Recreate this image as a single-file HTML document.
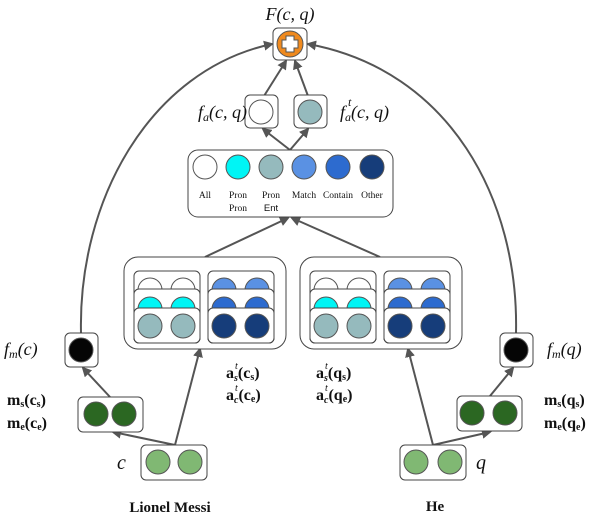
<!DOCTYPE html>
<html><head><style>
body{margin:0;background:#fff}
svg text{font-family:"Liberation Serif",serif}
.it{font-style:italic;font-size:18px}
.b{font-weight:bold;font-size:16px}
.s{font-size:9.5px}
</style></head><body>
<svg width="602" height="520" viewBox="0 0 602 520" xmlns="http://www.w3.org/2000/svg">
<defs>
<marker id="a" markerWidth="10" markerHeight="10" refX="8" refY="5" orient="auto" markerUnits="userSpaceOnUse">
<path d="M0,0 L10,5 L0,10 z" fill="#555"/></marker>
<g id="grp">
 <rect x="0" y="0" width="162" height="92" rx="14" fill="#fff" stroke="#444"/>
 <rect x="10" y="14" width="66" height="72" rx="5" fill="#fff" stroke="#444"/>
 <circle cx="26" cy="33" r="12" fill="#fff" stroke="#555"/><circle cx="59" cy="33" r="12" fill="#fff" stroke="#555"/>
 <rect x="10" y="32" width="66" height="54" rx="5" fill="#fff" stroke="#444"/>
 <circle cx="26" cy="52" r="12" fill="#00f5f5" stroke="#555"/><circle cx="59" cy="52" r="12" fill="#00f5f5" stroke="#555"/>
 <rect x="10" y="51" width="66" height="35" rx="5" fill="#fff" stroke="#444"/>
 <circle cx="26" cy="69" r="12" fill="#95babd" stroke="#555"/><circle cx="59" cy="69" r="12" fill="#95babd" stroke="#555"/>
 <rect x="84" y="14" width="66" height="72" rx="5" fill="#fff" stroke="#444"/>
 <circle cx="100" cy="33" r="12" fill="#5a91e3" stroke="#555"/><circle cx="133" cy="33" r="12" fill="#5a91e3" stroke="#555"/>
 <rect x="84" y="32" width="66" height="54" rx="5" fill="#fff" stroke="#444"/>
 <circle cx="100" cy="52" r="12" fill="#2d6bcf" stroke="#555"/><circle cx="133" cy="52" r="12" fill="#2d6bcf" stroke="#555"/>
 <rect x="84" y="51" width="66" height="35" rx="5" fill="#fff" stroke="#444"/>
 <circle cx="100" cy="69" r="12" fill="#163d7a" stroke="#555"/><circle cx="133" cy="69" r="12" fill="#163d7a" stroke="#555"/>
</g>
</defs>
<g stroke="#555" stroke-width="2" fill="none" marker-end="url(#a)">
<path d="M81,333 C78,200 150,70 272,44"/>
<path d="M516,333 C519,200 450,70 308,44"/>
<path d="M175,445 L200,349"/>
<path d="M175,445 L113,432"/>
<path d="M110,397 L83,368"/>
<path d="M433,445 L408,349"/>
<path d="M433,445 L490,432"/>
<path d="M490,396 L513,368"/>
<path d="M205,257 L288,218"/>
<path d="M380,257 L292,218"/>
<path d="M290,150 L263,129"/>
<path d="M290,150 L308,129"/>
<path d="M264,96 L286,61"/>
<path d="M308,96 L295,61"/>
</g>
<use href="#grp" x="124" y="257"/>
<use href="#grp" x="300" y="257"/>
<g stroke="#444" fill="#fff">
<rect x="273" y="28" width="34" height="32" rx="5"/>
<rect x="245" y="95" width="33" height="33" rx="5"/>
<rect x="294" y="95" width="33" height="33" rx="5"/>
<rect x="188" y="150" width="205" height="67" rx="10"/>
<rect x="65" y="333" width="33" height="34" rx="5"/>
<rect x="500" y="333" width="33" height="34" rx="5"/>
<rect x="78" y="397" width="65" height="35" rx="5"/>
<rect x="457" y="396" width="65" height="35" rx="5"/>
<rect x="141" y="445" width="66" height="35" rx="5"/>
<rect x="400" y="445" width="66" height="35" rx="5"/>
</g>
<g stroke="#555">
<circle cx="290" cy="44" r="13" fill="#f08a1e"/>
<path d="M286,36h8v4h4v8h-4v4h-8v-4h-4v-8h4z" fill="#fff" stroke="#555" stroke-width="1"/>
<circle cx="261" cy="112" r="12" fill="#fff"/>
<circle cx="310" cy="112" r="12" fill="#95babd"/>
<circle cx="205" cy="167" r="12" fill="#fff"/>
<circle cx="238" cy="167" r="12" fill="#00f5f5"/>
<circle cx="271" cy="167" r="12" fill="#95babd"/>
<circle cx="304" cy="167" r="12" fill="#5a91e3"/>
<circle cx="338" cy="167" r="12" fill="#2d6bcf"/>
<circle cx="372" cy="167" r="12" fill="#163d7a"/>
<circle cx="81" cy="350" r="12" fill="#050505"/>
<circle cx="516" cy="350" r="12" fill="#050505"/>
<circle cx="96" cy="414" r="12" fill="#2b6722"/><circle cx="124" cy="414" r="12" fill="#2b6722"/>
<circle cx="472" cy="413" r="12" fill="#2b6722"/><circle cx="505" cy="413" r="12" fill="#2b6722"/>
<circle cx="158" cy="462" r="12" fill="#80b873"/><circle cx="190" cy="462" r="12" fill="#80b873"/>
<circle cx="416" cy="462" r="12" fill="#80b873"/><circle cx="450" cy="462" r="12" fill="#80b873"/>
</g>
<g fill="#111" text-anchor="middle">
<text x="205" y="198" class="s">All</text>
<text x="238" y="198" class="s">Pron</text><text x="238" y="211" class="s">Pron</text>
<text x="271" y="198" class="s">Pron</text><text x="271" y="211" class="s" style="font-family:'Liberation Sans',sans-serif">Ent</text>
<text x="304" y="198" class="s">Match</text>
<text x="338" y="198" class="s">Contain</text>
<text x="372" y="198" class="s">Other</text>
<text x="290" y="20" class="it">F(c, q)</text>
<text x="170" y="512" class="b" style="font-size:15px">Lionel Messi</text>
<text x="435" y="511" class="b" style="font-size:15px">He</text>
</g>
<g fill="#111">
<text x="198" y="118" class="it">f<tspan font-size="12" dy="3">a</tspan><tspan dy="-3">(c, q)</tspan></text>
<text x="340" y="118" class="it">f<tspan font-size="12" dy="3">a</tspan><tspan dy="-3">(c, q)</tspan></text>
<text x="348" y="106" font-size="12" font-style="italic">t</text>
<text x="4" y="355" class="it">f<tspan font-size="12" dy="3">m</tspan><tspan dy="-3">(c)</tspan></text>
<text x="547" y="355" class="it">f<tspan font-size="12" dy="3">m</tspan><tspan dy="-3">(q)</tspan></text>
<text x="7" y="405" class="b">m<tspan font-size="10" dy="2">s</tspan><tspan dy="-2">(c</tspan><tspan font-size="10" dy="2">s</tspan><tspan dy="-2">)</tspan></text>
<text x="7" y="428" class="b">m<tspan font-size="10" dy="2">e</tspan><tspan dy="-2">(c</tspan><tspan font-size="10" dy="2">e</tspan><tspan dy="-2">)</tspan></text>
<text x="544" y="405" class="b">m<tspan font-size="10" dy="2">s</tspan><tspan dy="-2">(q</tspan><tspan font-size="10" dy="2">s</tspan><tspan dy="-2">)</tspan></text>
<text x="544" y="428" class="b">m<tspan font-size="10" dy="2">e</tspan><tspan dy="-2">(q</tspan><tspan font-size="10" dy="2">e</tspan><tspan dy="-2">)</tspan></text>
<text x="226" y="378" class="b">a<tspan font-size="10" dy="3" font-style="italic">s</tspan><tspan dy="-3">(c</tspan><tspan font-size="10" dy="2">s</tspan><tspan dy="-2">)</tspan></text>
<text x="235" y="369" font-size="10" font-style="italic">t</text>
<text x="226" y="400" class="b">a<tspan font-size="10" dy="3" font-style="italic">c</tspan><tspan dy="-3">(c</tspan><tspan font-size="10" dy="2">e</tspan><tspan dy="-2">)</tspan></text>
<text x="235" y="391" font-size="10" font-style="italic">t</text>
<text x="316" y="378" class="b">a<tspan font-size="10" dy="3" font-style="italic">s</tspan><tspan dy="-3">(q</tspan><tspan font-size="10" dy="2">s</tspan><tspan dy="-2">)</tspan></text>
<text x="325" y="369" font-size="10" font-style="italic">t</text>
<text x="316" y="400" class="b">a<tspan font-size="10" dy="3" font-style="italic">c</tspan><tspan dy="-3">(q</tspan><tspan font-size="10" dy="2">e</tspan><tspan dy="-2">)</tspan></text>
<text x="325" y="391" font-size="10" font-style="italic">t</text>
<text x="117" y="469" class="it" style="font-size:20px">c</text>
<text x="476" y="469" class="it" style="font-size:20px">q</text>
</g>
</svg>
</body></html>
